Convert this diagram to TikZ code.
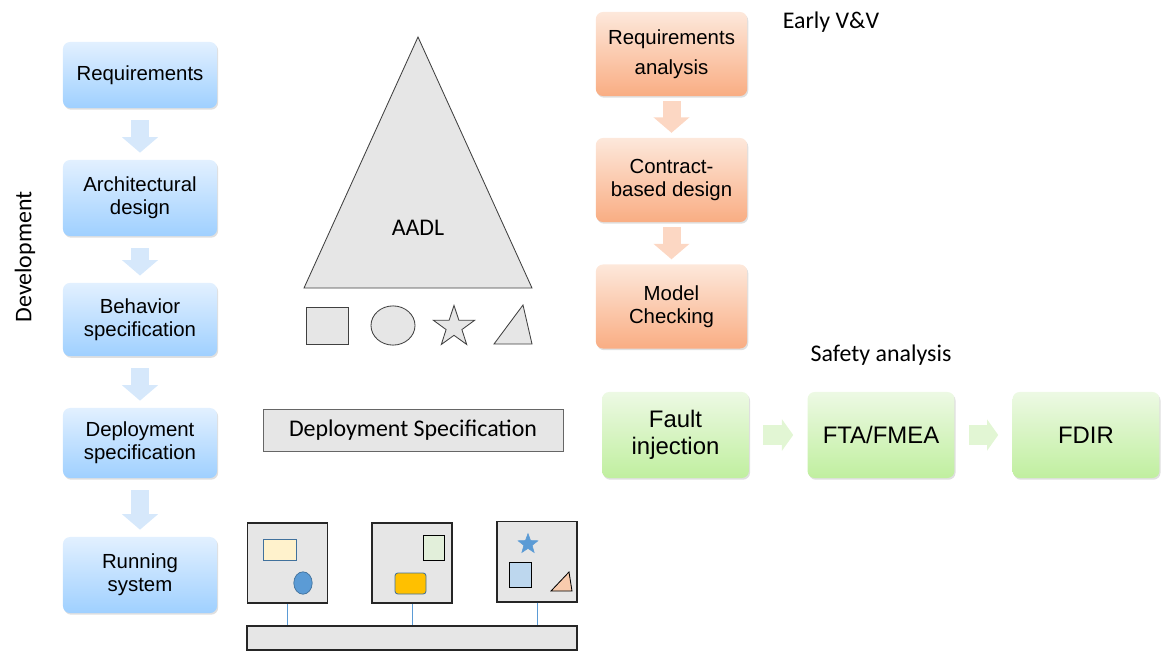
\documentclass[tikz,border=0pt]{standalone}
\usepackage{fontspec}
\setmainfont{Liberation Sans}
\newfontfamily\calibri{Carlito}
\usetikzlibrary{arrows.meta,shadows,shapes.geometric}

\definecolor{devtop}{HTML}{E2F0FF}
\definecolor{devbot}{HTML}{9FD0FF}
\definecolor{devarrow}{HTML}{D6E8FB}
\definecolor{vvtop}{HTML}{FDE8DB}
\definecolor{vvbot}{HTML}{F9AD83}
\definecolor{vvarrow}{HTML}{FCD7C3}
\definecolor{safetop}{HTML}{EDF9E4}
\definecolor{safebot}{HTML}{C0EF9F}
\definecolor{safearrow}{HTML}{E2F6D4}
\definecolor{shapegray}{HTML}{E6E6E6}
\definecolor{edgegray}{HTML}{404040}
\definecolor{itemblue}{HTML}{5B9BD5}
\definecolor{itemedge}{HTML}{41719C}
\definecolor{itemcream}{HTML}{FFF2CC}
\definecolor{itemgreen}{HTML}{E2EFDA}
\definecolor{itemgold}{HTML}{FFC000}
\definecolor{itemlight}{HTML}{BDD7EE}
\definecolor{itempeach}{HTML}{F8CBAD}

\tikzset{
  box/.style={rounded corners=5pt, align=center,
    font=\fontsize{14.5}{16.5}\selectfont,
    drop shadow={opacity=0.25, shadow xshift=0.8pt, shadow yshift=-1.2pt}},
  devbox/.style={box, top color=devtop, bottom color=devbot, minimum width=3.85cm},
  vvbox/.style={box, top color=vvtop, bottom color=vvbot,
    minimum width=3.78cm, minimum height=2.1cm},
  safebox/.style={box, top color=safetop, bottom color=safebot,
    minimum width=3.67cm, minimum height=2.15cm,
    font=\fontsize{17}{19.5}\selectfont},
  flow/.style={line width=12.8pt, -{Triangle[width=25pt,length=11pt]}},
  devflow/.style={flow, devarrow, shorten <=8.5pt, shorten >=5pt},
  vvflow/.style={flow, vvarrow, shorten <=3.5pt, shorten >=3.5pt},
  safeflow/.style={flow, safearrow, line width=14pt,
    -{Triangle[width=22pt,length=8pt]}, shorten <=10pt, shorten >=10pt},
  note/.style={font=\calibri\fontsize{17}{19}\selectfont},
  shapeline/.style={draw=edgegray, fill=shapegray, line width=0.6pt},
  cpu/.style={draw=black!85, fill=shapegray, line width=1.4pt,
    minimum size=2cm, inner sep=0pt},
  link/.style={draw=itemblue, line width=0.6pt}
}

\begin{document}
\begin{tikzpicture}[x=0.025cm, y=-0.025cm]
\useasboundingbox (0,0) rectangle (1164,652);

% development flow
\node[devbox, minimum height=1.65cm] (req) at (140,75) {Requirements};
\node[devbox, minimum height=1.9cm] (arch) at (140,198) {Architectural\\design};
\node[devbox, minimum height=1.83cm] (beh) at (140,319.5) {Behavior\\specification};
\node[devbox, minimum height=1.75cm] (dep) at (140,443) {Deployment\\specification};
\node[devbox, minimum height=1.9cm] (run) at (140,575) {Running\\system};
\draw[devflow] (req) -- (arch);
\draw[devflow] (arch) -- (beh);
\draw[devflow] (beh) -- (dep);
\draw[devflow] (dep) -- (run);
\node[note, rotate=90] (devlabel) at (25,257) {Development};

% AADL
\draw[shapeline] (418,37) -- (532,288) -- (304,288) -- cycle;
\node[note] (aadl) at (418,228) {AADL};
\draw[shapeline] (306,307) rectangle (348,344);
\draw[shapeline] (393,325.5) ellipse (0.55cm and 0.49cm);
\node[shapeline, star, star points=5, star point ratio=2.6,
  minimum size=1.08cm, inner sep=0pt] (bigstar) at (454,327) {};
\draw[shapeline] (494,344) -- (532,344) -- (523,305) -- cycle;

\node[draw=gray!80!black, fill=shapegray, line width=0.6pt,
  minimum width=7.5cm, minimum height=1.03cm, note] (depspec)
  at (413,430.5) {Deployment Specification};

% platform
\node[cpu] (cpuA) at (287.5,563) {};
\node[cpu] (cpuB) at (412,563) {};
\node[cpu] (cpuC) at (537,561.5) {};
\node[draw=black!85, fill=shapegray, line width=1.4pt,
  minimum width=8.25cm, minimum height=0.6cm] (bus) at (412,638) {};
\draw[link] (cpuA.south) -- (cpuA.south |- bus.north);
\draw[link] (cpuB.south) -- (cpuB.south |- bus.north);
\draw[link] (cpuC.south) -- (cpuC.south |- bus.north);
\draw[draw=itemedge, fill=itemcream, line width=0.6pt] (263,539) rectangle (296,560);
\draw[draw=itemedge, fill=itemblue, line width=0.5pt] (303,583) ellipse (0.23cm and 0.28cm);
\draw[draw=black, fill=itemgreen, line width=0.6pt] (423,535) rectangle (444,560);
\draw[draw=itemedge, fill=itemgold, line width=0.6pt,
  rounded corners=2pt] (395,573) rectangle (426,594);
\node[draw=itemblue, fill=itemblue, star, star points=5, star point ratio=2.4,
  minimum size=0.52cm, inner sep=0pt] (smallstar) at (528,544) {};
\draw[draw=black, fill=itemlight, line width=0.6pt] (509,562) rectangle (531,587);
\draw[draw=black, fill=itempeach, line width=0.6pt]
  (551,591) -- (572,591) -- (569,572) -- cycle;

% early V&V
\node[vvbox] (reqana) at (671.5,54) {Requirements\\[5pt]analysis};
\node[vvbox] (contract) at (671.5,180) {Contract-\\based design};
\node[vvbox] (mc) at (671.5,306.5) {Model\\Checking};
\draw[vvflow] (reqana) -- (contract);
\draw[vvflow] (contract) -- (mc);
\node[note] (earlyvv) at (831,22) {Early V\&V};

% safety analysis
\node[safebox] (fault) at (675.5,435) {Fault\\injection};
\node[safebox] (fta) at (881,435) {FTA/FMEA};
\node[safebox] (fdir) at (1086,435) {FDIR};
\draw[safeflow] (fault) -- (fta);
\draw[safeflow] (fta) -- (fdir);
\node[note] (safety) at (881,355) {Safety analysis};
\end{tikzpicture}
\end{document}
